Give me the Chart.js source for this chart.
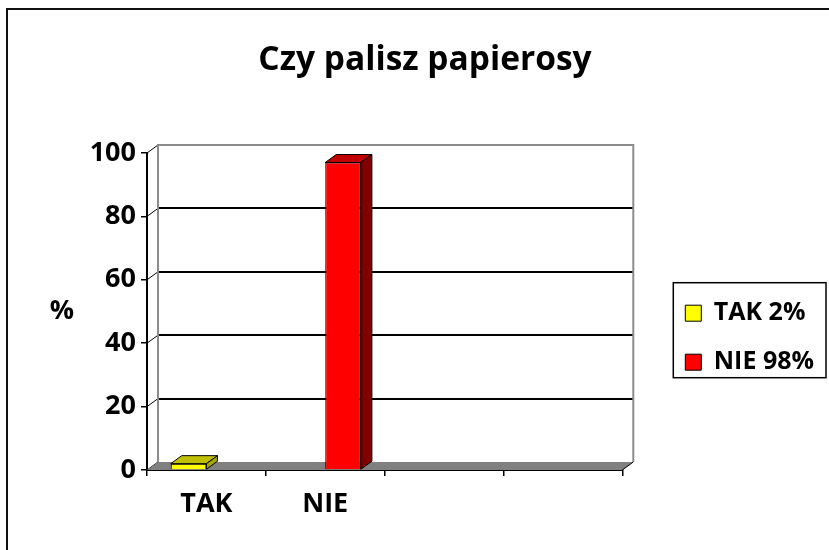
<!DOCTYPE html>
<html>
<head>
<meta charset="utf-8">
<script src="https://cdn.jsdelivr.net/npm/chart.js@4.4.0/dist/chart.umd.min.js"></script>
<style>
  html, body { margin: 0; padding: 0; background: #fff; }
  #wrap { width: 829px; height: 550px; position: relative; }
</style>
</head>
<body>
<div id="wrap"><canvas id="smokeChart"></canvas></div>
<script>
// chart data
const categories = ['TAK', 'NIE', '', ''];
const seriesLabels = ['TAK 2%', 'NIE 98%'];
const takValues = [2, null, null, null];
const nieValues = [null, 97, null, null];
const yTicks = [0, 20, 40, 60, 80, 100];

const FONT = '"Open Sans", "Liberation Sans", sans-serif';
// depth of the fake 3D effect
const DX = 11;
const DY = 8;

// back wall, floor, slanted grid lines on the wall
const wallPlugin = {
    id: 'wall',
    beforeDatasetsDraw(chart) {
        const { ctx, chartArea } = chart;
        const y = chart.scales.y;
        const left = chartArea.left, right = chartArea.right;
        const base = y.getPixelForValue(0);
        const top = y.getPixelForValue(100);
        ctx.save();

        // grid lines on the back wall
        ctx.strokeStyle = '#000';
        ctx.lineWidth = 2;
        yTicks.forEach(v => {
            if (v === 0 || v === 100) return;
            const py = Math.round(y.getPixelForValue(v) - DY);
            ctx.beginPath();
            ctx.moveTo(left + DX, py);
            ctx.lineTo(right + DX, py);
            ctx.stroke();
        });

        // short diagonals from the front axis to the wall
        ctx.lineWidth = 1;
        yTicks.forEach(v => {
            const py = y.getPixelForValue(v);
            ctx.beginPath();
            ctx.moveTo(left, py);
            ctx.lineTo(left + DX, py - DY);
            ctx.stroke();
        });

        // wall outline
        ctx.strokeStyle = '#8c8c8c';
        ctx.lineWidth = 2;
        ctx.beginPath();
        ctx.moveTo(left + DX, base - DY);
        ctx.lineTo(left + DX, top - DY);
        ctx.lineTo(right + DX, top - DY);
        ctx.lineTo(right + DX, base - DY);
        ctx.stroke();

        // floor
        ctx.fillStyle = '#808080';
        ctx.beginPath();
        ctx.moveTo(left, base);
        ctx.lineTo(right, base);
        ctx.lineTo(right + DX, base - DY);
        ctx.lineTo(left + DX, base - DY);
        ctx.closePath();
        ctx.fill();
        ctx.strokeStyle = '#000';
        ctx.lineWidth = 1;
        ctx.beginPath();
        ctx.moveTo(right, base);
        ctx.lineTo(right + DX, base - DY);
        ctx.stroke();
        ctx.restore();
    },
    afterDatasetsDraw(chart) {
        // top and side faces of the bars
        const { ctx } = chart;
        const faceColors = [['#c0c000', '#a6a600'], ['#c00000', '#800000']];
        ctx.save();
        ctx.strokeStyle = '#000';
        ctx.lineWidth = 1;
        chart.data.datasets.forEach((ds, di) => {
            const meta = chart.getDatasetMeta(di);
            meta.data.forEach((bar, i) => {
                if (ds.data[i] == null) return;
                const { x, y, width, base } = bar.getProps(['x', 'y', 'width', 'base'], true);
                const l = x - width / 2, r = x + width / 2;
                ctx.fillStyle = faceColors[di][0];
                ctx.beginPath();
                ctx.moveTo(l, y);
                ctx.lineTo(l + DX, y - DY);
                ctx.lineTo(r + DX, y - DY);
                ctx.lineTo(r, y);
                ctx.closePath();
                ctx.fill();
                ctx.stroke();
                ctx.fillStyle = faceColors[di][1];
                ctx.beginPath();
                ctx.moveTo(r, y);
                ctx.lineTo(r + DX, y - DY);
                ctx.lineTo(r + DX, base - DY);
                ctx.lineTo(r, base);
                ctx.closePath();
                ctx.fill();
                ctx.stroke();
            });
        });
        ctx.restore();
    },
    afterDraw(chart) {
        const { ctx, chartArea } = chart;
        ctx.save();
        // outer frame (left and top edges only are in view)
        ctx.fillStyle = '#111';
        ctx.fillRect(6, 8, 2, chart.height - 8);
        ctx.fillRect(6, 8, chart.width - 6, 2);

        // "%" axis title, upright
        ctx.fillStyle = '#000';
        ctx.font = 'bold 27px ' + FONT;
        ctx.textAlign = 'center';
        ctx.textBaseline = 'middle';
        ctx.fillText('%', 62, (chartArea.top + chartArea.bottom) / 2);

        // legend frame
        const boxes = chart.legend.legendHitBoxes;
        if (boxes && boxes.length) {
            const first = boxes[0], last = boxes[boxes.length - 1];
            const fl = first.left - 12, ft = first.top - 18;
            ctx.strokeStyle = '#000';
            ctx.lineWidth = 1.5;
            ctx.strokeRect(fl, ft, chart.width - 3 - fl, last.top + last.height + 3 - ft);
        }
        ctx.restore();
    }
};

function drawChart() {
    const ctx = document.getElementById('smokeChart').getContext('2d');
    new Chart(ctx, {
        type: 'bar',
        data: {
            labels: categories,
            datasets: [
                {
                    label: seriesLabels[0],
                    data: takValues,
                    backgroundColor: '#ffff00',
                    borderColor: '#000',
                    borderWidth: 1
                },
                {
                    label: seriesLabels[1],
                    data: nieValues,
                    backgroundColor: '#ff0000',
                    borderColor: '#000',
                    borderWidth: 1
                }
            ]
        },
        options: {
            responsive: true,
            maintainAspectRatio: false,
            animation: false,
            categoryPercentage: 0.6,
            barPercentage: 1.0,
            layout: { padding: { left: 26, right: 5, top: 0, bottom: 0 } },
            scales: {
                x: {
                    grid: { offset: true, drawOnChartArea: false, drawTicks: true, tickLength: 6, color: '#000', lineWidth: 1.5 },
                    border: { display: true, color: '#000', width: 2 },
                    ticks: { color: '#000', padding: 12, font: { family: FONT, size: 27, weight: 'bold' } },
                    afterFit: s => { s.height = 80; }
                },
                y: {
                    min: 0,
                    max: 100,
                    ticks: { stepSize: 20, color: '#000', padding: 5, font: { family: FONT, size: 27, weight: 'bold' } },
                    grid: { drawOnChartArea: false, drawTicks: true, tickLength: 6, color: '#000', lineWidth: 1.5 },
                    border: { display: true, color: '#000', width: 2 },
                    afterFit: s => { s.width = 121; }
                },
                gap: {
                    type: 'linear',
                    position: 'right',
                    display: true,
                    ticks: { display: false },
                    grid: { display: false },
                    border: { display: false },
                    afterFit: s => { s.width = 39; }
                }
            },
            plugins: {
                title: {
                    display: true,
                    text: 'Czy palisz papierosy',
                    color: '#000',
                    font: { family: FONT, size: 33.5, weight: 'bold' },
                    padding: { top: 40, bottom: 72.8 }
                },
                legend: {
                    position: 'right',
                    fullSize: false,
                    maxWidth: 220,
                    title: { display: true, text: '', font: { size: 12 }, padding: 19 },
                    labels: {
                        color: '#000',
                        boxWidth: 16,
                        boxHeight: 16,
                        padding: 24,
                        font: { family: FONT, size: 25, weight: 'bold' }
                    }
                },
                tooltip: { enabled: false }
            }
        },
        plugins: [wallPlugin]
    });
}

// make sure text is measured with the real font
Promise.all([
    document.fonts.load('bold 25px "Open Sans"'),
    document.fonts.load('bold 33px "Open Sans"')
]).then(drawChart, drawChart);
</script>
</body>
</html>
